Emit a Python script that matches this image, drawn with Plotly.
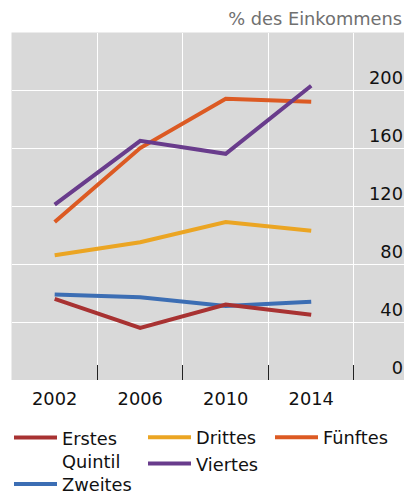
import plotly.graph_objects as go

# ---- data ----
years = [2002, 2006, 2010, 2014]
year_labels = ["2002", "2006", "2010", "2014"]
band_edges = [2000, 2004, 2008, 2012, 2016]
y_ticks = [0, 40, 80, 120, 160, 200]
y_tick_labels = ["0", "40", "80", "120", "160", "200"]

erstes = [56, 36, 52, 45]
zweites = [59, 57, 51, 54]
drittes = [86, 95, 109, 103]
viertes = [121, 165, 156, 203]
fuenftes = [109, 160, 194, 192]

title_text = "% des Einkommens"

# ---- style ----
W, H = 404, 495
FONT = "DejaVu Sans"
FS = 17.8
BG = "#d9d9d9"
LEG_DX = -5  # offset between legend box x and symbol start

series = [
    # name, values, color, legend id, axis, (symbol x, block centre y)
    ("Zweites", zweites, "#3c6eb4", "legend2", "x", (14, 484.5)),
    ("Erstes<br>Quintil", erstes, "#a83232", "legend", "x", (14, 449.5)),
    ("Drittes", drittes, "#eba523", "legend3", "x", (148, 437.7)),
    ("Fünftes", fuenftes, "#dc5a23", "legend5", "x", (275, 437.7)),
    ("Viertes", viertes, "#693c8c", "legend4", "x2", (148, 464)),
]

fig = go.Figure()
legends = {}
for name, vals, col, leg, xa, (sx, cy) in series:
    fig.add_trace(go.Scatter(
        x=years, y=vals, name=name, mode="lines",
        line=dict(color=col, width=4),
        xaxis=xa, yaxis="y", legend=leg, showlegend=True,
        hoverinfo="skip",
    ))
    legends[leg] = dict(
        x=(sx + LEG_DX) / W, y=1 - cy / H, xanchor="left", yanchor="middle",
        bgcolor="rgba(0,0,0,0)", borderwidth=0,
        font=dict(family=FONT, size=FS, color="#111111"),
        itemwidth=43, orientation="v", valign="top",
    )

x_range = [1999.98, 2018.34]
y_range = [0, 239.7]
y_domain = [(H - 380) / H, (H - 32.5) / H]

fig.update_layout(
    width=W, height=H, autosize=False,
    margin=dict(l=0, r=0, t=0, b=0, pad=0, autoexpand=False),
    paper_bgcolor="white", plot_bgcolor=BG,
    font=dict(family=FONT, size=FS, color="#111111"),
    title=dict(
        text=title_text, x=402 / W, xanchor="right", xref="container",
        y=1 - 19 / H, yanchor="middle", yref="container",
        font=dict(family=FONT, size=FS, color="#707070"),
    ),
    xaxis=dict(
        domain=[11.5 / W, 1], range=x_range,
        tickmode="array", tickvals=years, ticktext=year_labels,
        showgrid=False, zeroline=False, showline=False,
        ticks="", ticklabelstandoff=6,
        tickfont=dict(family=FONT, size=FS, color="#111111"),
        fixedrange=True,
    ),
    xaxis2=dict(
        overlaying="x", anchor="y", side="bottom", range=x_range,
        tickmode="array", tickvals=band_edges,
        showgrid=True, gridcolor="white", gridwidth=1,
        zeroline=False, showline=False,
        ticks="inside", ticklen=15, tickcolor="#222222", tickwidth=1,
        showticklabels=False, fixedrange=True,
    ),
    yaxis=dict(
        domain=y_domain, range=y_range,
        side="right", tickmode="array", tickvals=y_ticks, ticktext=y_tick_labels,
        showgrid=True, gridcolor="white", gridwidth=1,
        zeroline=False, showline=False, ticks="",
        ticklabelposition="inside top", ticklabelstandoff=-2,
        tickfont=dict(family=FONT, size=FS, color="#111111"),
        fixedrange=True,
    ),
    yaxis2=dict(
        overlaying="y", anchor="x", side="left", range=y_range,
        tickmode="array", tickvals=y_ticks,
        showgrid=False, zeroline=False, showline=False,
        ticks="outside", ticklen=2, tickcolor="#666666", tickwidth=1,
        showticklabels=False, fixedrange=True,
    ),
    showlegend=True,
    **legends,
)

fig.write_html("out.html", config={"displayModeBar": False})
